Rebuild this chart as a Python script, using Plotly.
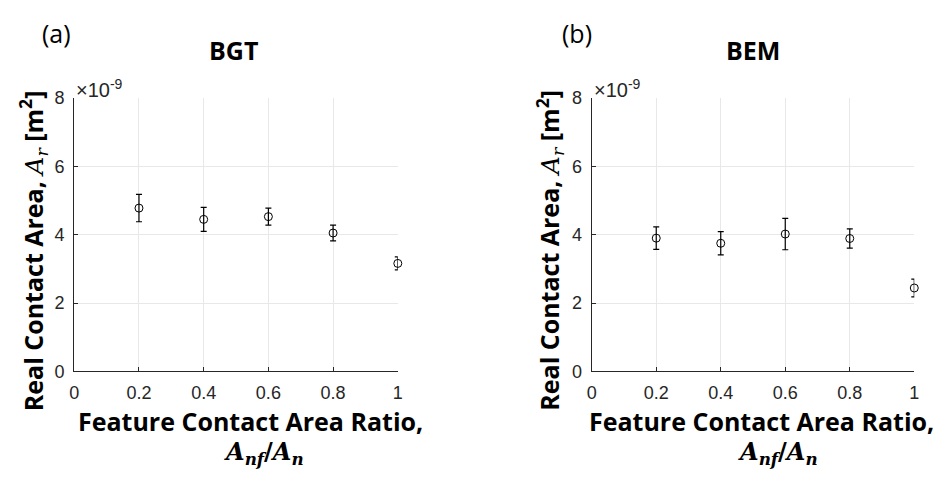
import plotly.graph_objects as go

# Data (values in units of 1e-9 m^2)
ratio = [0.2, 0.4, 0.6, 0.8, 1.0]
bgt_area = [4.78, 4.45, 4.53, 4.05, 3.16]
bgt_err = [0.40, 0.35, 0.25, 0.23, 0.19]
bem_area = [3.90, 3.75, 4.02, 3.89, 2.44]
bem_err = [0.33, 0.34, 0.46, 0.28, 0.26]

y_ticks = [0, 2, 4, 6, 8]
x_ticks = [0, 0.2, 0.4, 0.6, 0.8, 1]
x_ticktext = ["0", "0.2", "0.4", "0.6", "0.8", "1"]

W, H = 945, 480
dom_a = [70 / W, 397 / W]
dom_b = [593 / W, 919 / W]
dom_y = [(H - 377) / H, (H - 92) / H]

AX = "#262626"
GRID = "#e8e8e8"
TICKFONT = dict(family="Liberation Sans, Arial, sans-serif", size=18, color=AX)
BOLD = "Open Sans, Noto Sans, sans-serif"

fig = go.Figure()


def add_panel(xs, ys, errs, xa, ya):
    fig.add_trace(go.Scatter(
        x=xs, y=ys, mode="markers", cliponaxis=False,
        marker=dict(symbol="circle-open", size=8, color="black", line=dict(width=1, color="black")),
        error_y=dict(type="data", array=errs, visible=True, color="black", thickness=1.2, width=3),
        xaxis=xa, yaxis=ya, showlegend=False, hoverinfo="x+y",
    ))


add_panel(ratio, bgt_area, bgt_err, "x", "y")
add_panel(ratio, bem_area, bem_err, "x2", "y2")

xaxis_common = dict(
    range=[0, 1], tickvals=x_ticks, ticktext=x_ticktext, showgrid=True, gridcolor=GRID, gridwidth=1,
    showline=True, linecolor=AX, linewidth=1.2, ticks="inside", ticklen=4, tickcolor=AX,
    tickfont=TICKFONT, zeroline=False, mirror=False, ticklabelstandoff=5,
)
yaxis_common = dict(
    range=[0, 8], tickvals=y_ticks, showgrid=True, gridcolor=GRID, gridwidth=1,
    showline=True, linecolor=AX, linewidth=1.2, ticks="inside", ticklen=4, tickcolor=AX,
    tickfont=TICKFONT, zeroline=False, mirror=False, ticklabelstandoff=5,
)

fig.update_layout(
    width=W, height=H, margin=dict(l=0, r=0, t=0, b=0),
    paper_bgcolor="white", plot_bgcolor="white",
    xaxis=dict(domain=dom_a, anchor="y", **xaxis_common),
    yaxis=dict(domain=dom_y, anchor="x", **yaxis_common),
    xaxis2=dict(domain=dom_b, anchor="y2", **xaxis_common),
    yaxis2=dict(domain=dom_y, anchor="x2", **yaxis_common),
)

ylab = ("<b>Real Contact Area, </b><span style='font-family:DejaVu Serif'><i>A<sub>r</sub></i></span>"
        "<b> [m<sup>2</sup>]</b>")
xlab1 = "<b>Feature Contact Area Ratio,</b>"
xlab2 = "<b><i>A<sub>nf</sub></i>/<i>A<sub>n</sub></i></b>"


def px_x(p):
    return p / W


def px_y(p):
    return 1 - p / H


anns = []
for label, tag, title_x, ylab_x, x1c, x2c, ax_left, tag_x in [
    ("(a)", "BGT", 231, 28, 248, 262, 70, 52),
    ("(b)", "BEM", 756, 550, 765, 781, 593, 578),
]:
    anns += [
        dict(text=label, x=px_x(tag_x), y=px_y(24), xref="paper", yref="paper", showarrow=False,
             xanchor="center", yanchor="middle", font=dict(family=BOLD, size=25, color="black")),
        dict(text="<b>" + tag + "</b>", x=px_x(title_x), y=px_y(42), xref="paper", yref="paper",
             showarrow=False, xanchor="center", yanchor="middle", font=dict(family=BOLD, size=25, color="black")),
        dict(text=ylab, x=px_x(ylab_x), y=px_y(251), xref="paper", yref="paper", showarrow=False,
             textangle=-90, xanchor="center", yanchor="middle", font=dict(family=BOLD, size=25, color="black")),
        dict(text=xlab1, x=px_x(x1c), y=px_y(429), xref="paper", yref="paper", showarrow=False,
             xanchor="center", yanchor="middle", font=dict(family=BOLD, size=25, color="black")),
        dict(text=xlab2, x=px_x(x2c), y=px_y(462), xref="paper", yref="paper", showarrow=False,
             xanchor="center", yanchor="middle", font=dict(family="DejaVu Serif", size=24, color="black")),
        dict(text="×10<sup>-9</sup>", x=px_x(ax_left), y=px_y(82), xref="paper", yref="paper",
             showarrow=False, xanchor="left", yanchor="middle",
             font=dict(family="Liberation Sans, Arial", size=20, color=AX)),
    ]

fig.update_layout(annotations=anns)
fig.write_html("out.html")
